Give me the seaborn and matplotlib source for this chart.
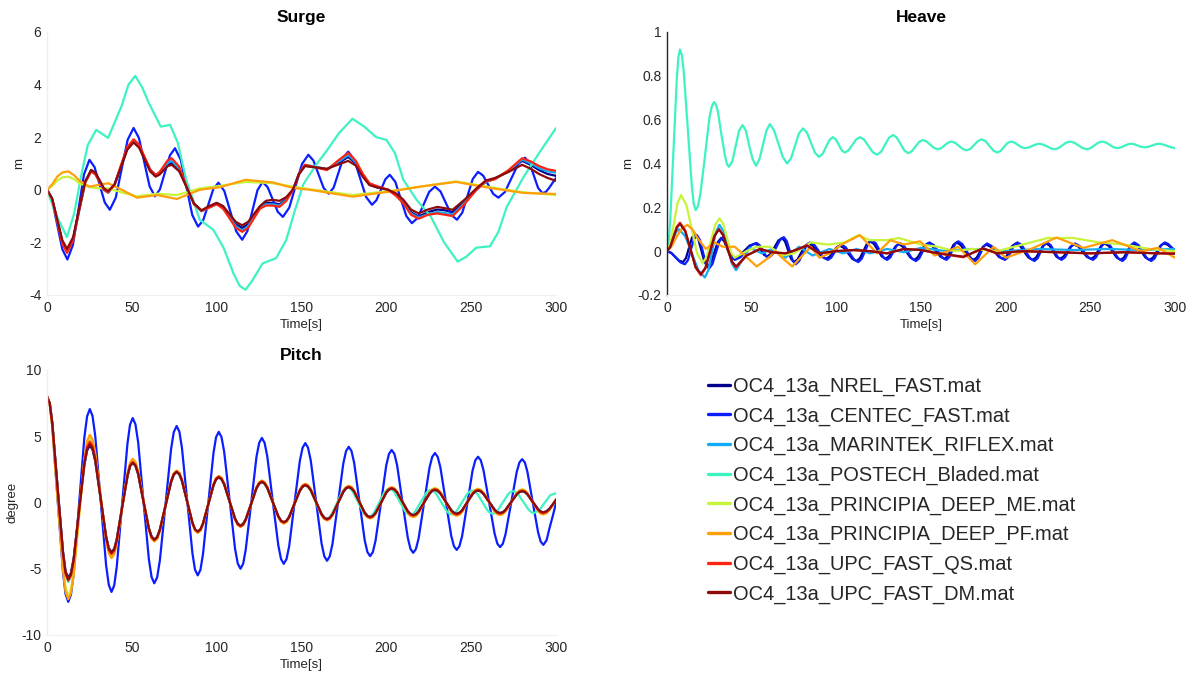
import matplotlib
matplotlib.use("Agg")
import matplotlib.pyplot as plt
import pandas as pd
import seaborn as sns

SERIES = ["OC4_13a_NREL_FAST.mat", "OC4_13a_CENTEC_FAST.mat", "OC4_13a_MARINTEK_RIFLEX.mat",
          "OC4_13a_POSTECH_Bladed.mat", "OC4_13a_PRINCIPIA_DEEP_ME.mat", "OC4_13a_PRINCIPIA_DEEP_PF.mat",
          "OC4_13a_UPC_FAST_QS.mat", "OC4_13a_UPC_FAST_DM.mat"]
COLORS = ["#00008C", "#0A1EFF", "#14AAF5", "#3EF2C2", "#C6F43A", "#FFA00A", "#FF2412", "#8C0A0A"]

X_TICKS = [0, 50, 100, 150, 200, 250, 300]
SURGE_TICKS = [-4, -2, 0, 2, 4, 6]
SURGE_TICK_LABELS = ["-4", "-2", "0", "2", "4", "6"]
HEAVE_TICKS = [-0.2, 0, 0.2, 0.4, 0.6, 0.8, 1]
HEAVE_TICK_LABELS = ["-0.2", "0", "0.2", "0.4", "0.6", "0.8", "1"]
PITCH_TICKS = [-10, -5, 0, 5, 10]
PITCH_TICK_LABELS = ["-10", "-5", "0", "5", "10"]

# ---------------- Surge [m] ----------------
SURGE_T_MAIN = [0, 3, 6, 9, 11.8, 15.4, 18.9, 22.5, 26, 28.5, 31, 33.5, 36, 39.75, 43.5, 47.25, 51, 54.25, 57.5,
                60.75, 64, 66.4, 68.75, 71.1, 73.5, 77.9, 82.25, 86.6, 91, 95.5, 100, 103.75, 107.5, 111.25, 115,
                118.5, 122, 125.5, 129, 133, 137, 141, 145, 148.5, 152, 158.5, 165, 171.25, 177.5, 182, 186, 190,
                194, 201, 206, 210, 214.5, 219, 224.5, 230, 234.5, 239, 246, 253, 258.5, 264, 272, 280, 285, 290,
                295, 300]
SURGE_NREL = [0, -0.34, -1.15, -1.96, -2.3, -1.85, -0.78, 0.3, 0.75, 0.63, 0.33, 0.02, -0.1, 0.18, 0.87, 1.55,
              1.83, 1.65, 1.2, 0.75, 0.57, 0.64, 0.8, 0.96, 1.02, 0.75, 0.11, -0.53, -0.8, -0.65, -0.5, -0.64,
              -0.98, -1.31, -1.45, -1.31, -0.98, -0.64, -0.5, -0.5, -0.55, -0.35, 0.0, 0.6, 0.92, 0.85, 0.78, 1.0,
              1.25, 1.0, 0.55, 0.2, 0.1, 0.0, -0.2, -0.45, -0.85, -1.02, -0.85, -0.75, -0.78, -0.85, -0.45, 0.0,
              0.3, 0.42, 0.7, 1.1, 0.95, 0.75, 0.6, 0.53]
SURGE_MARINTEK = [0, -0.35, -1.18, -2.0, -2.35, -1.88, -0.8, 0.28, 0.72, 0.6, 0.31, 0.0, -0.12, 0.18, 0.88, 1.58,
                  1.87, 1.68, 1.22, 0.76, 0.56, 0.65, 0.83, 1.02, 1.1, 0.8, 0.12, -0.55, -0.82, -0.68, -0.55,
                  -0.68, -1.02, -1.38, -1.55, -1.38, -1.03, -0.68, -0.55, -0.55, -0.6, -0.38, 0.0, 0.62, 0.95,
                  0.88, 0.78, 1.05, 1.32, 1.05, 0.58, 0.22, 0.12, 0.0, -0.22, -0.48, -0.9, -1.06, -0.92, -0.85,
                  -0.88, -0.95, -0.5, 0.0, 0.3, 0.42, 0.72, 1.15, 1.0, 0.82, 0.7, 0.65]
SURGE_QS = [0, -0.36, -1.2, -2.05, -2.4, -1.92, -0.8, 0.28, 0.7, 0.58, 0.3, 0.0, -0.1, 0.2, 0.92, 1.62, 1.92,
            1.72, 1.25, 0.78, 0.55, 0.68, 0.9, 1.12, 1.2, 0.88, 0.12, -0.55, -0.8, -0.68, -0.55, -0.72, -1.08,
            -1.45, -1.6, -1.45, -1.08, -0.72, -0.6, -0.6, -0.65, -0.42, 0.0, 0.62, 0.95, 0.85, 0.75, 1.1, 1.4, 1.1,
            0.62, 0.25, 0.15, 0.0, -0.25, -0.52, -0.95, -1.1, -0.95, -0.9, -0.95, -1.0, -0.55, 0.0, 0.32, 0.4,
            0.75, 1.2, 1.08, 0.9, 0.78, 0.72]
SURGE_DM = [0, -0.33, -1.12, -1.92, -2.25, -1.8, -0.72, 0.32, 0.75, 0.65, 0.36, 0.06, -0.05, 0.2, 0.85, 1.52, 1.8,
            1.6, 1.15, 0.7, 0.5, 0.58, 0.75, 0.9, 0.95, 0.7, 0.1, -0.52, -0.78, -0.62, -0.5, -0.62, -0.92, -1.22,
            -1.35, -1.22, -0.92, -0.62, -0.42, -0.38, -0.42, -0.28, 0.02, 0.6, 0.9, 0.85, 0.8, 0.95, 1.1, 0.92,
            0.5, 0.18, 0.1, 0.0, -0.15, -0.38, -0.75, -0.9, -0.75, -0.65, -0.7, -0.76, -0.38, 0.05, 0.35, 0.45,
            0.68, 0.95, 0.8, 0.6, 0.45, 0.34]
SURGE_T_CENTEC = [0, 3, 6, 9, 12, 15.25, 18.5, 21.75, 25, 28, 31, 34, 37, 40.5, 44, 47.5, 51, 54.15, 57.3, 60.45,
                  63.6, 66.55, 69.5, 72.45, 75.4, 78.8, 82.2, 85.6, 89, 92, 95, 98, 101, 104.5, 108, 111.5, 115,
                  118, 121, 124, 127, 130, 133, 136, 139, 142.75, 146.5, 150.25, 154, 157, 160, 163, 166, 168.9,
                  171.75, 174.6, 177.5, 181, 184.5, 188, 191.5, 194.1, 196.75, 199.4, 202, 205.25, 208.5, 211.75,
                  215, 218.4, 221.8, 225.2, 228.6, 231.85, 235.1, 238.35, 241.6, 244.7, 247.8, 250.9, 254, 257,
                  260, 263, 266, 269.9, 273.85, 277.8, 281.7, 284.3, 286.85, 289.4, 292, 294, 296, 298, 300]
SURGE_CENTEC = [0, -0.39, -1.33, -2.26, -2.65, -2.1, -0.76, 0.58, 1.14, 0.86, 0.19, -0.48, -0.76, -0.3, 0.8, 1.9,
                2.35, 1.97, 1.05, 0.13, -0.25, 0.02, 0.67, 1.31, 1.58, 1.14, 0.09, -0.96, -1.4, -1.16, -0.57, 0.03,
                0.27, -0.05, -0.82, -1.58, -1.9, -1.58, -0.8, -0.02, 0.3, 0.1, -0.37, -0.84, -1.03, -0.68, 0.15,
                0.98, 1.33, 1.11, 0.59, 0.07, -0.15, 0.08, 0.65, 1.22, 1.45, 1.15, 0.44, -0.27, -0.57, -0.4, 0.0,
                0.4, 0.57, 0.3, -0.35, -1.0, -1.27, -1.07, -0.58, -0.08, 0.12, -0.06, -0.51, -0.96, -1.14, -0.87,
                -0.23, 0.41, 0.68, 0.54, 0.19, -0.16, -0.3, -0.08, 0.46, 1.0, 1.22, 1.02, 0.55, 0.07, -0.13, -0.08,
                0.08, 0.27, 0.45]
SURGE_T_POSTECH = [0, 5, 11.7, 16, 20, 24, 29, 36, 44, 48, 52, 56, 60, 67, 72.5, 77, 82, 90, 98, 104, 110, 113.5,
                   117, 121, 127, 135, 141, 146, 151, 158, 165, 172, 180, 187, 194, 200, 205, 210, 218, 226, 234,
                   242, 247, 253, 261, 266, 271, 281, 290, 300]
SURGE_POSTECH = [0, -0.9, -1.8, -0.9, 0.5, 1.7, 2.28, 1.97, 3.2, 4.0, 4.33, 3.9, 3.3, 2.4, 2.47, 1.8, 0.38, -1.14,
                 -1.52, -2.2, -3.2, -3.65, -3.8, -3.45, -2.8, -2.6, -1.9, -0.8, 0.2, 0.9, 1.5, 2.15, 2.7, 2.4, 2.0,
                 1.9, 1.4, 0.38, -0.4, -1.0, -2.0, -2.73, -2.55, -2.2, -2.15, -1.6, -0.64, 0.5, 1.4, 2.35]
SURGE_T_PRINCIPIA = [0, 3, 6, 9, 12.5, 16, 19, 25, 30, 36, 44, 53, 65, 76.5, 90, 102, 117, 133, 145, 155, 180, 202,
                     220, 241, 261, 281, 300]
SURGE_ME = [0, 0.15, 0.35, 0.47, 0.5, 0.4, 0.25, 0.1, 0.06, 0.05, -0.1, -0.25, -0.15, -0.2, 0.05, 0.15, 0.3, 0.25,
            0.12, 0.02, -0.2, -0.05, 0.12, 0.32, 0.1, -0.1, -0.2]
SURGE_PF = [0, 0.2, 0.5, 0.66, 0.7, 0.55, 0.35, 0.12, 0.18, 0.25, 0.0, -0.3, -0.2, -0.35, 0.0, 0.1, 0.38, 0.28,
            0.07, 0.0, -0.26, -0.07, 0.12, 0.3, 0.07, -0.12, -0.16]

# ---------------- Heave [m] ----------------
HEAVE_T_NREL = [0, 2.4, 4.75, 7.1, 9.5, 11.25, 13, 14.75, 16.5, 18.4, 20.25, 22.1, 24, 26, 28, 30, 32, 33.75, 35.5,
                37.25, 39, 42.25, 45.5, 48.75, 52, 53.75, 55.5, 57.25, 59, 61.25, 63.5, 65.75, 68, 69.75, 71.5,
                73.25, 75, 77.1, 79.25, 81.4, 83.5, 86.1, 88.75, 91.4, 94, 96, 98, 100, 102, 104.5, 107, 109.5,
                112, 114, 116, 118, 120, 122.25, 124.5, 126.75, 129, 131, 133, 135, 137, 139.25, 141.5, 143.75,
                146, 148, 150, 152, 154, 156.5, 159, 161.5, 164, 165.75, 167.5, 169.25, 171, 173.5, 176, 178.5,
                181, 182.9, 184.75, 186.6, 188.5, 191, 193.5, 196, 198.5, 200.4, 202.25, 204.1, 206, 208.5, 211,
                213.5, 216, 218, 220, 222, 224, 226, 228, 230, 232, 234.1, 236.25, 238.4, 240.5, 243, 245.5, 248,
                250.5, 252.5, 254.5, 256.5, 258.5, 260.9, 263.25, 265.6, 268, 269.9, 271.75, 273.6, 275.5, 277.9,
                280.25, 282.6, 285, 287.1, 289.25, 291.4, 293.5, 295.5, 297.5, 300]
HEAVE_NREL = [0, -0.007, -0.025, -0.043, -0.05, -0.031, 0.015, 0.061, 0.08, 0.058, 0.005, -0.048, -0.07, -0.051,
              -0.005, 0.041, 0.06, 0.046, 0.013, -0.021, -0.035, -0.025, 0.0, 0.025, 0.035, 0.026, 0.005, -0.016,
              -0.025, -0.013, 0.018, 0.048, 0.06, 0.044, 0.005, -0.034, -0.05, -0.038, -0.008, 0.023, 0.035,
              0.025, 0.0, -0.025, -0.035, -0.026, -0.005, 0.016, 0.025, 0.015, -0.01, -0.035, -0.045, -0.032, 0.0,
              0.032, 0.045, 0.033, 0.005, -0.023, -0.035, -0.025, -0.002, 0.022, 0.032, 0.021, -0.004, -0.029,
              -0.04, -0.029, -0.003, 0.024, 0.035, 0.025, 0.0, -0.025, -0.035, -0.024, 0.003, 0.029, 0.04, 0.028,
              0.0, -0.028, -0.04, -0.03, -0.005, 0.02, 0.03, 0.021, -0.003, -0.026, -0.035, -0.025, 0.0, 0.025,
              0.035, 0.024, -0.003, -0.029, -0.04, -0.029, -0.003, 0.024, 0.035, 0.025, 0.0, -0.025, -0.035,
              -0.026, -0.003, 0.021, 0.03, 0.021, -0.003, -0.026, -0.035, -0.025, 0.0, 0.025, 0.035, 0.024,
              -0.003, -0.029, -0.04, -0.029, -0.003, 0.024, 0.035, 0.024, -0.003, -0.029, -0.04, -0.029, -0.003,
              0.024, 0.035, 0.03, 0.018, 0.005]
HEAVE_T_CENTEC = [0, 2.65, 5.3, 7.95, 10.6, 12.4, 14.15, 15.9, 17.7, 19.5, 21.25, 23.0, 24.8, 26.85, 28.9, 30.95,
                  33, 34.75, 36.5, 38.25, 40, 43.25, 46.5, 49.75, 53, 54.75, 56.5, 58.25, 60, 62.25, 64.5, 66.75,
                  69, 70.75, 72.5, 74.25, 76, 78.1, 80.25, 82.4, 84.5, 87.1, 89.75, 92.4, 95, 97, 99, 101, 103,
                  105.5, 108, 110.5, 113, 115, 117, 119, 121, 123.25, 125.5, 127.75, 130, 131.9, 133.8, 135.7,
                  137.6, 139.95, 142.3, 144.65, 147, 149, 151, 153, 155, 157.5, 160, 162.5, 165, 166.75, 168.5,
                  170.25, 172, 174.5, 177, 179.5, 182, 183.75, 185.5, 187.25, 189, 191.65, 194.3, 196.95, 199.6,
                  201.45, 203.3, 205.15, 207, 209.5, 212, 214.5, 217, 218.9, 220.75, 222.6, 224.5, 226.6, 228.75,
                  230.9, 233, 235, 237, 239, 241, 243.65, 246.3, 248.95, 251.6, 253.45, 255.3, 257.15, 259, 261.5,
                  264, 266.5, 269, 270.75, 272.5, 274.25, 276, 278.5, 281, 283.5, 286, 288, 290, 292, 294, 296, 298,
                  300]
HEAVE_CENTEC = [0, -0.009, -0.03, -0.051, -0.06, -0.041, 0.007, 0.054, 0.073, 0.051, -0.004, -0.058, -0.08,
                -0.059, -0.008, 0.044, 0.065, 0.05, 0.013, -0.025, -0.04, -0.029, -0.002, 0.026, 0.037, 0.027,
                0.004, -0.02, -0.03, -0.016, 0.017, 0.05, 0.064, 0.046, 0.002, -0.042, -0.06, -0.045, -0.01, 0.025,
                0.04, 0.028, 0.0, -0.028, -0.04, -0.03, -0.005, 0.02, 0.03, 0.018, -0.01, -0.038, -0.05, -0.035,
                0.0, 0.035, 0.05, 0.037, 0.005, -0.027, -0.04, -0.029, -0.002, 0.026, 0.037, 0.025, -0.004, -0.033,
                -0.045, -0.033, -0.003, 0.028, 0.04, 0.028, 0.0, -0.028, -0.04, -0.028, 0.003, 0.033, 0.045, 0.032,
                0.0, -0.032, -0.045, -0.033, -0.005, 0.023, 0.035, 0.024, -0.003, -0.029, -0.04, -0.028, 0.0, 0.028,
                0.04, 0.028, -0.003, -0.033, -0.045, -0.033, -0.003, 0.028, 0.04, 0.028, 0.0, -0.028, -0.04,
                -0.029, -0.003, 0.024, 0.035, 0.024, -0.003, -0.029, -0.04, -0.028, 0.0, 0.028, 0.04, 0.028,
                -0.003, -0.033, -0.045, -0.033, -0.003, 0.028, 0.04, 0.028, -0.003, -0.033, -0.045, -0.033, -0.003,
                0.028, 0.04, 0.033, 0.018, 0.0]
HEAVE_T_MARINTEK = [0, 1.75, 3.5, 5.25, 7, 10.85, 14.7, 18.55, 22.4, 24.55, 26.7, 28.85, 31, 33.45, 35.9, 38.35,
                    40.8, 49, 56, 62, 70, 78, 86, 96, 104, 112, 120, 130, 140, 150, 165, 180, 200, 220, 240, 260,
                    280, 300]
HEAVE_MARINTEK = [0, 0.015, 0.05, 0.085, 0.1, 0.068, -0.01, -0.088, -0.12, -0.085, 0.0, 0.085, 0.12, 0.09, 0.017,
                  -0.057, -0.087, 0.015, -0.01, 0.01, -0.03, 0.02, -0.02, 0.01, -0.01, 0.01, -0.01, 0.01, -0.005,
                  0.015, 0.0, 0.01, 0.0, 0.01, 0.005, 0.01, 0.005, 0.01]
HEAVE_T_POSTECH = [0, 0.96, 1.9, 3.85, 5.8, 6.74, 7.7, 8.86, 10.0, 12.35, 14.7, 15.84, 17, 18.35, 19.7, 22.4, 25.1,
                   26.45, 27.8, 28.9, 30.0, 32.2, 34.4, 35.5, 36.6, 38.6, 40.6, 42.6, 44.6, 46.6, 48.6, 50.6, 52.6,
                   54.65, 56.7, 58.75, 60.8, 63.3, 65.85, 68.4, 70.9, 73.25, 75.6, 77.95, 80.3, 82.7, 85.05, 87.4,
                   89.8, 91.85, 93.9, 95.95, 98, 99.75, 101.5, 103.25, 105, 107.25, 109.5, 111.75, 114, 116.5, 119,
                   121.5, 124, 126.4, 128.75, 131.1, 133.5, 135.75, 138, 140.25, 142.5, 144.6, 146.75, 148.9, 151,
                   153.25, 155.5, 157.75, 160, 162, 164, 166, 168, 170.25, 172.5, 174.75, 177, 179.25, 181.5,
                   183.75, 186, 188.25, 190.5, 192.75, 195, 197, 199, 201, 203, 205.1, 207.25, 209.4, 211.5, 213.6,
                   215.75, 217.9, 220, 222.25, 224.5, 226.75, 229, 231.25, 233.5, 235.75, 238, 240.5, 243, 245.5,
                   248, 250.25, 252.5, 254.75, 257, 259.25, 261.5, 263.75, 266, 268, 270, 272, 274, 276, 278, 280,
                   282, 284.25, 286.5, 288.75, 291, 293.25, 295.5, 297.75, 300]
HEAVE_POSTECH = [0, 0.035, 0.135, 0.46, 0.785, 0.885, 0.92, 0.892, 0.81, 0.55, 0.295, 0.215, 0.187, 0.206, 0.26,
                 0.43, 0.61, 0.66, 0.68, 0.669, 0.64, 0.53, 0.43, 0.396, 0.385, 0.41, 0.48, 0.55, 0.575, 0.55, 0.48,
                 0.42, 0.39, 0.42, 0.485, 0.55, 0.58, 0.55, 0.49, 0.43, 0.40, 0.423, 0.48, 0.537, 0.56, 0.541,
                 0.495, 0.449, 0.43, 0.443, 0.475, 0.507, 0.52, 0.51, 0.485, 0.46, 0.45, 0.46, 0.485, 0.51, 0.52,
                 0.508, 0.48, 0.452, 0.44, 0.453, 0.485, 0.517, 0.53, 0.518, 0.489, 0.459, 0.447, 0.456, 0.477,
                 0.498, 0.507, 0.501, 0.486, 0.471, 0.465, 0.47, 0.483, 0.495, 0.50, 0.494, 0.48, 0.466, 0.46,
                 0.467, 0.485, 0.503, 0.51, 0.501, 0.48, 0.459, 0.45, 0.457, 0.475, 0.493, 0.50, 0.496, 0.485,
                 0.474, 0.47, 0.473, 0.48, 0.487, 0.49, 0.486, 0.478, 0.469, 0.465, 0.47, 0.483, 0.495, 0.50, 0.495,
                 0.483, 0.47, 0.465, 0.47, 0.483, 0.495, 0.50, 0.496, 0.485, 0.474, 0.47, 0.473, 0.48, 0.487, 0.49,
                 0.488, 0.482, 0.476, 0.474, 0.476, 0.482, 0.488, 0.49, 0.486, 0.48, 0.474, 0.47]
HEAVE_T_ME = [0, 2, 4.15, 6.2, 8.3, 11.5, 14.65, 17.8, 21, 23.5, 26, 28.5, 31, 33.25, 35.5, 37.75, 40, 47, 53, 61,
              68, 75, 85, 95, 105, 113, 120, 130, 137, 150, 160, 170, 180, 195, 210, 225, 240, 255, 270, 285, 300]
HEAVE_ME = [0, 0.035, 0.128, 0.218, 0.256, 0.21, 0.1, -0.01, -0.055, -0.025, 0.048, 0.12, 0.15, 0.124, 0.06,
            -0.004, -0.03, 0.0, 0.02, 0.02, -0.02, -0.01, 0.04, 0.03, 0.04, 0.073, 0.05, 0.05, 0.06, 0.03, 0.02,
            0.0, 0.01, 0.0, 0.03, 0.06, 0.06, 0.04, 0.03, 0.01, 0.0]
HEAVE_T_PF = [0, 3, 6, 9, 12, 15, 18, 23, 28, 33, 40, 46, 53, 60, 64, 68, 74, 80, 85, 90, 96, 103, 114, 124, 132,
              140, 149.5, 158, 166, 172, 182, 193, 200, 215, 230, 246, 263, 280, 290, 300]
HEAVE_PF = [0, 0.025, 0.07, 0.105, 0.12, 0.1, 0.06, 0.01, 0.04, 0.02, 0.02, -0.02, -0.07, -0.03, 0.0, -0.03, -0.07,
            -0.02, 0.02, -0.03, -0.01, 0.03, 0.073, -0.01, 0.05, 0.03, 0.045, -0.02, 0.0, 0.02, -0.06, 0.02, -0.03,
            0.01, 0.062, 0.015, 0.05, 0.0, 0.015, -0.03]
HEAVE_T_UPC = [0, 1.9, 3.85, 5.8, 7.7, 10.8, 13.85, 16.9, 20, 22.7, 25.35, 28, 30.7, 33.2, 35.75, 38.3, 40.8, 47,
               55, 62, 70, 76, 82.7, 90, 100, 110, 120, 130, 140, 150, 160, 175, 186.6, 195, 210, 230, 250, 270,
               290, 300]
HEAVE_QS = [0, 0.019, 0.065, 0.111, 0.13, 0.095, 0.01, -0.075, -0.11, -0.079, -0.005, 0.069, 0.1, 0.074, 0.013,
            -0.049, -0.075, -0.02, 0.01, -0.005, -0.01, 0.005, 0.027, -0.01, 0.0, 0.005, 0.0, -0.01, 0.01, 0.005,
            -0.01, -0.028, 0.013, -0.01, 0.0, -0.005, -0.01, -0.005, -0.01, -0.01]
HEAVE_DM = [0, 0.018, 0.063, 0.107, 0.125, 0.09, 0.01, -0.072, -0.105, -0.076, -0.005, 0.068, 0.1, 0.073, 0.013,
            -0.046, -0.07, -0.02, 0.01, -0.005, -0.01, 0.005, 0.025, -0.01, 0.0, 0.005, 0.0, -0.01, 0.01, 0.005,
            -0.01, -0.025, 0.012, -0.01, 0.0, -0.005, -0.01, -0.005, -0.01, -0.012]

# ---------------- Pitch [degree] ----------------
PITCH_T = [0,
           1.6, 3.1, 6.2, 9.4, 10.9, 12.5,
           14.1, 15.7, 18.8, 22.0, 23.6, 25.2,
           26.8, 28.4, 31.6, 34.8, 36.4, 38.0,
           39.6, 41.1, 44.2, 47.4, 48.9, 50.5,
           52.1, 53.7, 56.8, 60.0, 61.6, 63.2,
           64.9, 66.5, 69.8, 73.1, 74.7, 76.4,
           78.0, 79.5, 82.6, 85.7, 87.2, 88.8,
           90.4, 91.9, 95.0, 98.1, 99.6, 101.2,
           102.8, 104.4, 107.6, 110.8, 112.4, 114.0,
           115.6, 117.1, 120.3, 123.4, 125.0, 126.6,
           128.2, 129.8, 133.0, 136.3, 137.9, 139.5,
           141.1, 142.7, 145.8, 149.0, 150.6, 152.2,
           153.8, 155.4, 158.6, 161.8, 163.4, 165.0,
           166.6, 168.2, 171.4, 174.6, 176.2, 177.8,
           179.4, 181.0, 184.1, 187.2, 188.8, 190.4,
           192.0, 193.6, 196.8, 199.9, 201.5, 203.1,
           204.7, 206.3, 209.4, 212.6, 214.2, 215.8,
           217.4, 219.0, 222.2, 225.4, 227.0, 228.6,
           230.2, 231.8, 235.0, 238.2, 239.8, 241.4,
           243.0, 244.6, 247.7, 250.8, 252.4, 254.0,
           255.6, 257.2, 260.5, 263.8, 265.4, 267.0,
           268.6, 270.2, 273.5, 276.8, 278.4, 280.0,
           281.6, 283.1, 286.2, 289.4, 290.9, 292.5,
           294.4, 296.2, 298.1, 300.0]
PITCH_CENTEC = [8,
                7.41, 5.73, 0.25, -5.23, -6.91, -7.5,
                -6.95, -5.37, -0.23, 4.92, 6.5, 7.05,
                6.53, 5.03, 0.15, -4.73, -6.23, -6.75,
                -6.25, -4.83, -0.19, 4.45, 5.87, 6.37,
                5.9, 4.54, 0.14, -4.27, -5.63, -6.1,
                -5.65, -4.36, -0.17, 4.03, 5.32, 5.77,
                5.34, 4.12, 0.14, -3.85, -5.07, -5.5,
                -5.09, -3.91, -0.09, 3.74, 4.92, 5.33,
                4.94, 3.82, 0.17, -3.49, -4.61, -5.0,
                -4.62, -3.55, -0.07, 3.42, 4.49, 4.87,
                4.51, 3.48, 0.12, -3.24, -4.27, -4.63,
                -4.28, -3.3, -0.08, 3.15, 4.13, 4.48,
                4.14, 3.18, 0.04, -3.1, -4.06, -4.4,
                -4.07, -3.14, -0.1, 2.94, 3.87, 4.2,
                3.89, 2.99, 0.08, -2.84, -3.74, -4.05,
                -3.75, -2.88, -0.05, 2.79, 3.66, 3.96,
                3.67, 2.82, 0.08, -2.66, -3.51, -3.8,
                -3.51, -2.7, -0.04, 2.63, 3.44, 3.73,
                3.45, 2.66, 0.08, -2.51, -3.3, -3.58,
                -3.31, -2.55, -0.07, 2.42, 3.18, 3.45,
                3.19, 2.45, 0.04, -2.37, -3.11, -3.37,
                -3.12, -2.4, -0.05, 2.3, 3.02, 3.27,
                3.02, 2.32, 0.04, -2.25, -2.95, -3.2,
                -2.85, -1.9, -1.0, 0.0]
PITCH_DM = [8,
            7.48, 5.98, 1.1, -3.78, -5.28, -5.8,
            -5.41, -4.31, -0.7, 2.91, 4.01, 4.4,
            4.09, 3.2, 0.3, -2.6, -3.49, -3.8,
            -3.54, -2.8, -0.4, 2.0, 2.74, 3.0,
            2.78, 2.15, 0.1, -1.95, -2.58, -2.8,
            -2.61, -2.05, -0.25, 1.55, 2.11, 2.3,
            2.13, 1.64, 0.05, -1.54, -2.03, -2.2,
            -2.04, -1.6, -0.15, 1.3, 1.74, 1.9,
            1.76, 1.37, 0.08, -1.22, -1.61, -1.75,
            -1.62, -1.27, -0.1, 1.07, 1.42, 1.55,
            1.43, 1.1, 0.03, -1.05, -1.38, -1.5,
            -1.39, -1.09, -0.1, 0.89, 1.19, 1.3,
            1.2, 0.93, 0.03, -0.88, -1.15, -1.25,
            -1.16, -0.9, -0.05, 0.8, 1.06, 1.15,
            1.06, 0.82, 0.03, -0.77, -1.01, -1.1,
            -1.02, -0.79, -0.03, 0.74, 0.97, 1.05,
            0.97, 0.76, 0.05, -0.66, -0.87, -0.95,
            -0.88, -0.67, 0.0, 0.67, 0.88, 0.95,
            0.88, 0.69, 0.05, -0.59, -0.78, -0.85,
            -0.78, -0.6, 0.03, 0.64, 0.83, 0.9,
            0.84, 0.65, 0.05, -0.55, -0.74, -0.8,
            -0.74, -0.56, 0.03, 0.61, 0.79, 0.85,
            0.79, 0.62, 0.05, -0.52, -0.69, -0.75,
            -0.67, -0.46, -0.14, 0.2]
PITCH_NREL = [8,
              7.48, 5.99, 1.15, -3.7, -5.18, -5.7,
              -5.32, -4.22, -0.7, 2.82, 3.92, 4.3,
              3.99, 3.12, 0.28, -2.56, -3.44, -3.75,
              -3.49, -2.77, -0.38, 1.99, 2.74, 3.0,
              2.78, 2.15, 0.1, -1.95, -2.58, -2.8,
              -2.61, -2.05, -0.25, 1.55, 2.11, 2.3,
              2.13, 1.64, 0.05, -1.54, -2.03, -2.2,
              -2.04, -1.6, -0.15, 1.3, 1.74, 1.9,
              1.76, 1.37, 0.08, -1.22, -1.61, -1.75,
              -1.62, -1.27, -0.1, 1.07, 1.42, 1.55,
              1.43, 1.1, 0.03, -1.05, -1.38, -1.5,
              -1.39, -1.09, -0.1, 0.89, 1.19, 1.3,
              1.2, 0.93, 0.03, -0.88, -1.15, -1.25,
              -1.16, -0.9, -0.05, 0.8, 1.06, 1.15,
              1.06, 0.82, 0.03, -0.77, -1.01, -1.1,
              -1.02, -0.79, -0.03, 0.74, 0.97, 1.05,
              0.97, 0.76, 0.05, -0.66, -0.87, -0.95,
              -0.88, -0.67, 0.0, 0.67, 0.88, 0.95,
              0.88, 0.69, 0.05, -0.59, -0.78, -0.85,
              -0.78, -0.6, 0.03, 0.64, 0.83, 0.9,
              0.84, 0.65, 0.05, -0.55, -0.74, -0.8,
              -0.74, -0.56, 0.03, 0.61, 0.79, 0.85,
              0.79, 0.62, 0.05, -0.52, -0.69, -0.75,
              -0.67, -0.46, -0.14, 0.2]
PITCH_MARINTEK = [8,
                  7.48, 5.97, 1.1, -3.8, -5.28, -5.8,
                  -5.41, -4.31, -0.65, 3.0, 4.11, 4.5,
                  4.18, 3.28, 0.33, -2.6, -3.53, -3.85,
                  -3.59, -2.85, -0.43, 2.0, 2.74, 3.0,
                  2.78, 2.15, 0.1, -1.95, -2.58, -2.8,
                  -2.61, -2.05, -0.25, 1.55, 2.11, 2.3,
                  2.13, 1.64, 0.05, -1.54, -2.03, -2.2,
                  -2.04, -1.6, -0.15, 1.3, 1.74, 1.9,
                  1.76, 1.37, 0.08, -1.22, -1.61, -1.75,
                  -1.62, -1.27, -0.1, 1.07, 1.42, 1.55,
                  1.43, 1.1, 0.03, -1.05, -1.38, -1.5,
                  -1.39, -1.09, -0.1, 0.89, 1.19, 1.3,
                  1.2, 0.93, 0.03, -0.88, -1.15, -1.25,
                  -1.16, -0.9, -0.05, 0.8, 1.06, 1.15,
                  1.06, 0.82, 0.03, -0.77, -1.01, -1.1,
                  -1.02, -0.79, -0.03, 0.74, 0.97, 1.05,
                  0.97, 0.76, 0.05, -0.66, -0.87, -0.95,
                  -0.88, -0.67, 0.0, 0.67, 0.88, 0.95,
                  0.88, 0.69, 0.05, -0.59, -0.78, -0.85,
                  -0.78, -0.6, 0.03, 0.64, 0.83, 0.9,
                  0.84, 0.65, 0.05, -0.55, -0.74, -0.8,
                  -0.74, -0.56, 0.03, 0.61, 0.79, 0.85,
                  0.79, 0.62, 0.05, -0.52, -0.69, -0.75,
                  -0.67, -0.46, -0.14, 0.2]
PITCH_QS = [8,
            7.47, 5.96, 1.05, -3.86, -5.37, -5.9,
            -5.5, -4.36, -0.65, 3.06, 4.2, 4.6,
            4.28, 3.35, 0.35, -2.65, -3.58, -3.9,
            -3.64, -2.88, -0.43, 2.03, 2.79, 3.05,
            2.83, 2.19, 0.1, -1.99, -2.63, -2.85,
            -2.65, -2.09, -0.25, 1.59, 2.15, 2.35,
            2.18, 1.68, 0.08, -1.53, -2.03, -2.2,
            -2.04, -1.59, -0.13, 1.34, 1.79, 1.95,
            1.81, 1.4, 0.08, -1.25, -1.66, -1.8,
            -1.67, -1.3, -0.1, 1.1, 1.47, 1.6,
            1.48, 1.15, 0.05, -1.05, -1.38, -1.5,
            -1.39, -1.08, -0.08, 0.93, 1.24, 1.35,
            1.25, 0.96, 0.03, -0.91, -1.2, -1.3,
            -1.2, -0.93, -0.05, 0.83, 1.1, 1.2,
            1.11, 0.86, 0.03, -0.81, -1.06, -1.15,
            -1.06, -0.82, -0.03, 0.77, 1.01, 1.1,
            1.02, 0.79, 0.05, -0.69, -0.92, -1.0,
            -0.92, -0.71, 0.0, 0.71, 0.92, 1.0,
            0.93, 0.72, 0.05, -0.62, -0.83, -0.9,
            -0.83, -0.63, 0.03, 0.68, 0.88, 0.95,
            0.88, 0.69, 0.05, -0.59, -0.78, -0.85,
            -0.78, -0.6, 0.03, 0.65, 0.83, 0.9,
            0.84, 0.65, 0.05, -0.55, -0.74, -0.8,
            -0.71, -0.49, -0.15, 0.22]
PITCH_PF = [8,
            7.42, 5.76, 0.35, -5.06, -6.72, -7.3,
            -6.83, -5.48, -1.1, 3.28, 4.63, 5.1,
            4.75, 3.74, 0.45, -2.84, -3.85, -4.2,
            -3.91, -3.1, -0.45, 2.2, 3.01, 3.3,
            3.06, 2.39, 0.18, -2.03, -2.71, -2.95,
            -2.75, -2.17, -0.28, 1.62, 2.2, 2.4,
            2.22, 1.71, 0.05, -1.61, -2.12, -2.3,
            -2.14, -1.67, -0.15, 1.37, 1.84, 2.0,
            1.85, 1.44, 0.08, -1.29, -1.7, -1.85,
            -1.72, -1.34, -0.1, 1.14, 1.52, 1.65,
            1.53, 1.18, 0.03, -1.13, -1.48, -1.6,
            -1.49, -1.16, -0.1, 0.96, 1.29, 1.4,
            1.3, 1.0, 0.03, -0.95, -1.25, -1.35,
            -1.25, -0.97, -0.05, 0.87, 1.15, 1.25,
            1.16, 0.89, 0.03, -0.84, -1.11, -1.2,
            -1.11, -0.86, -0.03, 0.8, 1.06, 1.15,
            1.06, 0.82, 0.03, -0.77, -1.01, -1.1,
            -1.02, -0.79, -0.03, 0.73, 0.97, 1.05,
            0.97, 0.75, 0.03, -0.7, -0.92, -1.0,
            -0.92, -0.71, 0.0, 0.71, 0.92, 1.0,
            0.93, 0.72, 0.03, -0.67, -0.88, -0.95,
            -0.88, -0.67, 0.0, 0.67, 0.88, 0.95,
            0.88, 0.68, 0.03, -0.63, -0.83, -0.9,
            -0.8, -0.55, -0.17, 0.25]
PITCH_ME = [8,
            7.43, 5.8, 0.5, -4.8, -6.43, -7.0,
            -6.55, -5.27, -1.1, 3.07, 4.35, 4.8,
            4.47, 3.51, 0.4, -2.71, -3.67, -4.0,
            -3.73, -2.95, -0.4, 2.15, 2.93, 3.2,
            2.97, 2.31, 0.15, -2.01, -2.67, -2.9,
            -2.7, -2.12, -0.25, 1.62, 2.2, 2.4,
            2.22, 1.72, 0.08, -1.57, -2.07, -2.25,
            -2.09, -1.63, -0.13, 1.38, 1.84, 2.0,
            1.86, 1.44, 0.1, -1.24, -1.66, -1.8,
            -1.67, -1.3, -0.08, 1.15, 1.52, 1.65,
            1.53, 1.18, 0.05, -1.08, -1.43, -1.55,
            -1.44, -1.12, -0.08, 0.97, 1.29, 1.4,
            1.3, 1.0, 0.05, -0.9, -1.2, -1.3,
            -1.2, -0.93, -0.03, 0.88, 1.15, 1.25,
            1.16, 0.89, 0.03, -0.84, -1.11, -1.2,
            -1.11, -0.86, -0.03, 0.8, 1.06, 1.15,
            1.06, 0.82, 0.03, -0.77, -1.01, -1.1,
            -1.02, -0.78, 0.0, 0.78, 1.02, 1.1,
            1.02, 0.79, 0.05, -0.69, -0.92, -1.0,
            -0.92, -0.7, 0.03, 0.75, 0.97, 1.05,
            0.97, 0.76, 0.05, -0.66, -0.87, -0.95,
            -0.88, -0.67, 0.03, 0.72, 0.93, 1.0,
            0.93, 0.72, 0.05, -0.62, -0.83, -0.9,
            -0.8, -0.55, -0.17, 0.25]
PITCH_T_POSTECH = [0,
                   1.6, 3.1, 6.2, 9.4, 10.9, 12.5,
                   14.1, 15.7, 18.8, 22.0, 23.6, 25.2,
                   26.8, 28.4, 31.6, 34.8, 36.4, 38.0,
                   39.6, 41.1, 44.2, 47.4, 48.9, 50.5,
                   52.1, 53.7, 56.8, 60.0, 61.6, 63.2,
                   64.9, 66.5, 69.8, 73.1, 74.7, 76.4,
                   78.0, 79.5, 82.6, 85.7, 87.2, 88.8,
                   90.4, 91.9, 95.0, 98.1, 99.6, 101.2,
                   102.8, 104.4, 107.6, 110.8, 112.4, 114.0,
                   115.6, 117.1, 120.3, 123.4, 125.0, 126.6,
                   128.2, 129.8, 133.0, 136.3, 137.9, 139.5,
                   141.1, 142.6, 145.8, 148.9, 150.4, 152.0,
                   153.6, 155.2, 158.3, 161.4, 163.0, 164.6,
                   166.2, 167.7, 170.8, 173.9, 175.5, 177.0,
                   178.6, 180.1, 183.2, 186.4, 187.9, 189.5,
                   191.0, 192.6, 195.6, 198.7, 200.3, 201.8,
                   203.3, 204.8, 207.9, 211.0, 212.5, 214.0,
                   215.5, 217.0, 220.1, 223.2, 224.7, 226.2,
                   227.7, 229.2, 232.3, 235.4, 236.9, 238.4,
                   239.9, 241.4, 244.5, 247.6, 249.1, 250.6,
                   252.1, 253.6, 256.6, 259.6, 261.1, 262.6,
                   264.1, 265.6, 268.6, 271.6, 273.1, 274.6,
                   276.2, 277.7, 280.8, 283.9, 285.5, 287.0,
                   290.2, 293.4, 296.6, 300.0]
PITCH_POSTECH = [8,
                 7.47, 5.95, 1.0, -3.95, -5.47, -6.0,
                 -5.6, -4.46, -0.75, 2.96, 4.1, 4.5,
                 4.18, 3.28, 0.33, -2.63, -3.53, -3.85,
                 -3.59, -2.85, -0.43, 2.0, 2.74, 3.0,
                 2.78, 2.15, 0.1, -1.95, -2.58, -2.8,
                 -2.61, -2.05, -0.25, 1.55, 2.11, 2.3,
                 2.13, 1.64, 0.05, -1.54, -2.03, -2.2,
                 -2.04, -1.6, -0.15, 1.3, 1.74, 1.9,
                 1.76, 1.37, 0.08, -1.22, -1.61, -1.75,
                 -1.62, -1.27, -0.1, 1.07, 1.42, 1.55,
                 1.43, 1.1, 0.03, -1.05, -1.38, -1.5,
                 -1.39, -1.09, -0.1, 0.89, 1.19, 1.3,
                 1.2, 0.93, 0.03, -0.88, -1.15, -1.25,
                 -1.16, -0.9, -0.05, 0.8, 1.06, 1.15,
                 1.06, 0.82, 0.03, -0.77, -1.01, -1.1,
                 -1.02, -0.79, -0.03, 0.74, 0.97, 1.05,
                 0.97, 0.76, 0.05, -0.66, -0.87, -0.95,
                 -0.88, -0.67, 0.0, 0.67, 0.88, 0.95,
                 0.88, 0.68, 0.03, -0.63, -0.83, -0.9,
                 -0.83, -0.64, 0.0, 0.64, 0.83, 0.9,
                 0.83, 0.65, 0.03, -0.6, -0.78, -0.85,
                 -0.79, -0.6, 0.0, 0.6, 0.79, 0.85,
                 0.79, 0.61, 0.03, -0.56, -0.74, -0.8,
                 -0.57, 0.0, 0.55, 0.7]


def long_frame(pairs):
    parts = [pd.DataFrame({"time": t, "value": v, "model": name}) for name, (t, v) in zip(SERIES, pairs)]
    return pd.concat(parts, ignore_index=True)


surge_df = long_frame([(SURGE_T_MAIN, SURGE_NREL), (SURGE_T_CENTEC, SURGE_CENTEC), (SURGE_T_MAIN, SURGE_MARINTEK),
                       (SURGE_T_POSTECH, SURGE_POSTECH), (SURGE_T_PRINCIPIA, SURGE_ME),
                       (SURGE_T_PRINCIPIA, SURGE_PF), (SURGE_T_MAIN, SURGE_QS), (SURGE_T_MAIN, SURGE_DM)])
heave_df = long_frame([(HEAVE_T_NREL, HEAVE_NREL), (HEAVE_T_CENTEC, HEAVE_CENTEC),
                       (HEAVE_T_MARINTEK, HEAVE_MARINTEK), (HEAVE_T_POSTECH, HEAVE_POSTECH),
                       (HEAVE_T_ME, HEAVE_ME), (HEAVE_T_PF, HEAVE_PF), (HEAVE_T_UPC, HEAVE_QS),
                       (HEAVE_T_UPC, HEAVE_DM)])
pitch_df = long_frame([(PITCH_T, PITCH_NREL), (PITCH_T, PITCH_CENTEC), (PITCH_T, PITCH_MARINTEK),
                       (PITCH_T_POSTECH, PITCH_POSTECH), (PITCH_T, PITCH_ME), (PITCH_T, PITCH_PF),
                       (PITCH_T, PITCH_QS), (PITCH_T, PITCH_DM)])

sns.set_style("white")
plt.rcParams["font.family"] = ["Liberation Sans", "DejaVu Sans"]

fig = plt.figure(figsize=(11.91, 6.75), dpi=100)
ax_s = fig.add_axes([0.0395, 0.563, 0.4274, 0.3896])
ax_h = fig.add_axes([0.5600, 0.563, 0.4265, 0.3896])
ax_p = fig.add_axes([0.0395, 0.0593, 0.4274, 0.3926])

palette = dict(zip(SERIES, COLORS))
for ax, df, leg in [(ax_s, surge_df, False), (ax_h, heave_df, False), (ax_p, pitch_df, True)]:
    sns.lineplot(data=df, x="time", y="value", hue="model", hue_order=SERIES, palette=palette,
                 sort=False, estimator=None, linewidth=1.6, ax=ax, legend=leg)
    for line in ax.get_lines():
        line.set_solid_joinstyle("round")


def style(ax, title, ylabel, ylim, yticks, yticklabels, dark_left=False):
    ax.set_xlim(0, 300)
    ax.set_ylim(*ylim)
    ax.set_xticks(X_TICKS)
    ax.set_xticklabels([str(v) for v in X_TICKS])
    ax.set_yticks(yticks)
    ax.set_yticklabels(yticklabels)
    ax.set_title(title, fontsize=12.5, fontweight="bold", pad=7, color="black")
    ax.set_xlabel("Time[s]", fontsize=9.5, labelpad=3, color="#262626")
    ax.set_ylabel(ylabel, fontsize=9.5, labelpad=2.5, color="#262626")
    for s in ["top", "right"]:
        ax.spines[s].set_visible(False)
    ax.spines["bottom"].set_color("#efefef")
    ax.spines["left"].set_color("#262626" if dark_left else "#efefef")
    ax.spines["left"].set_linewidth(1.0)
    ax.spines["bottom"].set_linewidth(0.8)
    ax.tick_params(direction="in", length=4, width=0.8, color="#9a9a9a", labelsize=10,
                   labelcolor="#262626", pad=4)
    ax.set_facecolor("white")


style(ax_s, "Surge", "m", (-4, 6), SURGE_TICKS, SURGE_TICK_LABELS)
style(ax_h, "Heave", "m", (-0.2, 1), HEAVE_TICKS, HEAVE_TICK_LABELS, dark_left=True)
style(ax_p, "Pitch", "degree", (-10, 10), PITCH_TICKS, PITCH_TICK_LABELS)

sns.move_legend(ax_p, "upper left", bbox_to_anchor=(0.5945, 0.4418), bbox_transform=fig.transFigure,
                frameon=False, title="", fontsize=14.4, handlelength=1.1, handletextpad=0.15,
                labelspacing=0.52, borderpad=0, borderaxespad=0)
for line in ax_p.get_legend().get_lines():
    line.set_linewidth(2.4)

fig.savefig("out.png", dpi=100)
